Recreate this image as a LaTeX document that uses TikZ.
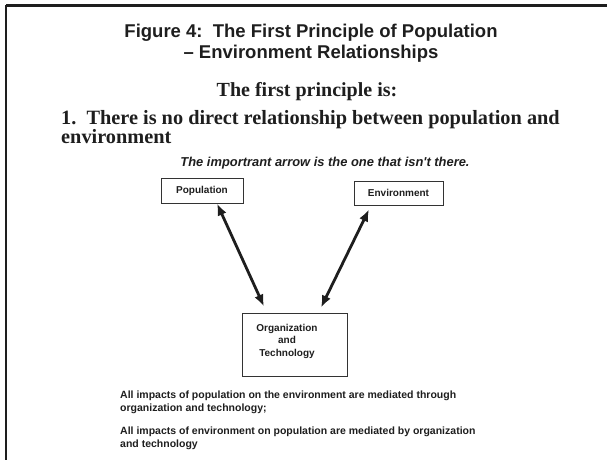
\documentclass[tikz,border=0pt]{standalone}
\usepackage{fontspec}
\setmainfont{Liberation Serif}
\setsansfont{Liberation Sans}
\usetikzlibrary{arrows.meta}
\definecolor{ink}{HTML}{1E1E1E}
\definecolor{boxline}{HTML}{333333}
\begin{document}
\begin{tikzpicture}[x=1pt,y=-1pt,
  every node/.style={text=ink, inner sep=0pt},
  labelbox/.style={draw=boxline, line width=0.9pt, fill=white, font=\sffamily\bfseries\fontsize{10}{12.5}\selectfont},
  biarrow/.style={draw=ink, line width=2.8pt, {Latex[length=12pt,width=9.5pt]}-{Latex[length=12pt,width=9.5pt]}},
  note/.style={anchor=north west, align=left, font=\sffamily\bfseries\fontsize{10.5}{12.5}\selectfont}
]
\useasboundingbox (0,0) rectangle (607,460);

% partial page frame: top and left rules
\draw[ink, line width=2.6pt] (6,5.5) -- (607,5.5);
\draw[ink, line width=2.6pt] (6,5.5) -- (6,460);

% headings
\node (title) at (311,43) [align=center, font=\sffamily\bfseries\fontsize{18.5}{21.5}\selectfont]
  {Figure 4:\ \ The First Principle of Population\\– Environment Relationships};
\node (first) at (307,92) [font=\rmfamily\bfseries\fontsize{20}{22}\selectfont] {The first principle is:};
\node (rule) at (61,127) [anchor=west, align=left, font=\rmfamily\bfseries\fontsize{20.3}{19.5}\selectfont]
  {1.\ \ There is no direct relationship between population and\\environment};
\node (missing) at (325,163) [font=\sffamily\bfseries\itshape\fontsize{12.9}{15}\selectfont]
  {The importrant arrow is the one that isn\textquotesingle t there.};

% the three boxes
\node (pop) at (202,190.5) [labelbox, minimum width=82pt, minimum height=25pt] {Population};
\node (env) at (398.5,193) [labelbox, minimum width=89pt, minimum height=24pt] {Environment};
\node (org) at (294.5,344.5) [labelbox, minimum width=105pt, minimum height=63pt] {};
\node (orgtext) at (287,341) [align=center, font=\sffamily\bfseries\fontsize{10}{12.5}\selectfont]
  {Organization\\and\\Technology};

% mediated links
\draw[biarrow] ([xshift=15pt,yshift=0pt]pop.south) -- ([xshift=-30.5pt,yshift=6pt]org.north);
\draw[biarrow] ([xshift=-29.5pt,yshift=-4pt]env.south) -- ([xshift=26.5pt,yshift=5pt]org.north);

% explanatory notes
\node (note1) at (120,391) [note] {All impacts of population on the environment are mediated through\\organization and technology;};
\node (note2) at (120,427) [note] {All impacts of environment on population are mediated by organization\\and technology};
\end{tikzpicture}
\end{document}
